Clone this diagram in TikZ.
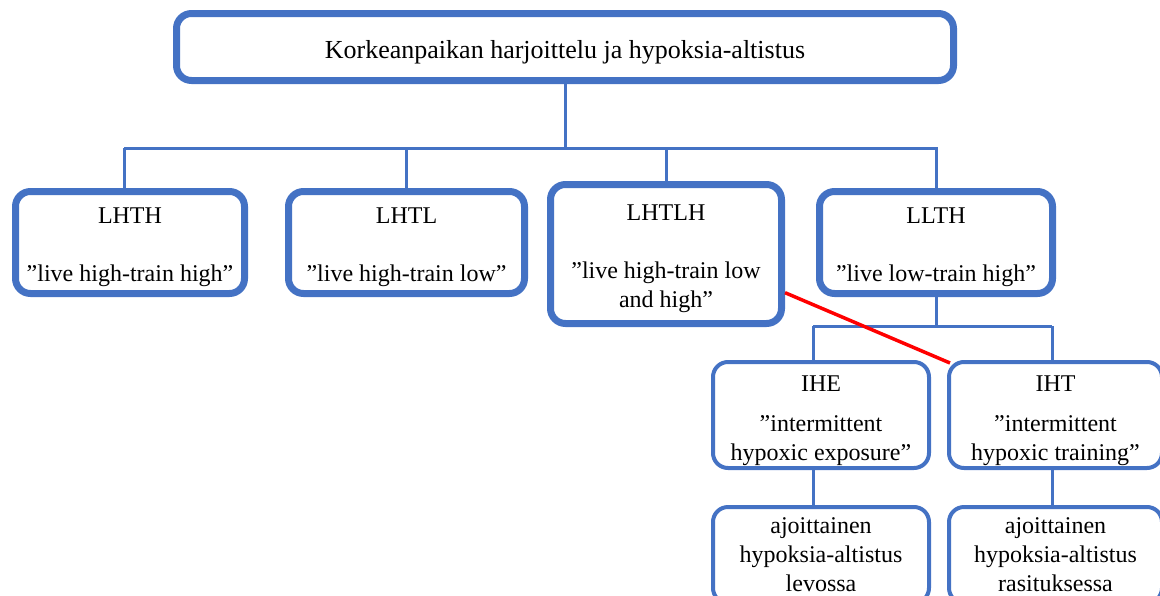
\documentclass[tikz,border=0pt]{standalone}
\usepackage{fontspec}
\setmainfont{Liberation Serif}
\usepackage{xcolor}
\usepackage{tikz}
\usetikzlibrary{positioning}

\definecolor{boxblue}{HTML}{4472C4}
\newcommand{\tstrut}[1][26pt]{\rule{0pt}{#1}}

\begin{document}
\begin{tikzpicture}[x=1pt, y=-1pt, every node/.style={font=\fontsize{24}{29}\selectfont}]

% Styles
\tikzstyle{box} = [draw=boxblue, line width=7pt, rounded corners=15pt, align=center, inner sep=0pt, minimum height=102pt, fill=white]
\tikzstyle{subbox} = [box, line width=4pt, minimum width=215pt, minimum height=106pt]
\tikzstyle{link} = [draw=boxblue, line width=3pt]
\tikzstyle{redlink} = [draw=red, line width=3.5pt]

\clip (0,0) rectangle (1160,595);

% Nodes
\node[box, minimum width=777pt, minimum height=67pt, font=\fontsize{26}{30}\selectfont] (top) at (565,47) {\tstrut[28pt]Korkeanpaikan harjoittelu ja hypoksia-altistus};

\node[box, minimum width=229pt] (lhth) at (130,242.5) {\tstrut LHTH\\[29pt]”live high-train high”};
\node[box, minimum width=236pt, right=37pt of lhth] (lhtl) {\tstrut LHTL\\[29pt]”live high-train low”};
\node[box, minimum width=231pt, minimum height=139pt] (lhtlh) at (666,254) {\tstrut LHTLH\\[29pt]”live high-train low\\and high”};
\node[box, minimum width=233pt] (llth) at (936,242.5) {\tstrut LLTH\\[29pt]”live low-train high”};

\node[subbox, minimum width=216pt] (ihe) at (821,415) {\tstrut[27pt]IHE\\[11pt]”intermittent\\hypoxic exposure”};
\node[subbox, minimum width=213pt, right=16pt of ihe] (iht) {\tstrut[27pt]IHT\\[11pt]”intermittent\\hypoxic training”};

\node[subbox, minimum width=216pt, minimum height=96pt, below=35pt of ihe] (rest) {ajoittainen\\hypoksia-altistus\\levossa};
\node[subbox, minimum width=213pt, minimum height=96pt, below=35pt of iht] (effort) {ajoittainen\\hypoksia-altistus\\rasituksessa};

\coordinate (busL) at (124,148);
\coordinate (busR) at (938,148);
\coordinate (subL) at (813,326);
\coordinate (subR) at (1052,326);

% Arrows
\draw[link] (top) -- (top |- busL);
\draw[link] (busL) -- (busR);
\draw[link] (busL) -- (busL |- lhth.north);
\draw[link] (lhtl) -- (lhtl |- busL);
\draw[link] (lhtlh) -- (lhtlh |- busL);
\draw[link] (llth) -- (llth |- busL);

\draw[link] (llth) -- (llth |- subL);
\draw[link] (subL) -- (subR);
\draw[link] (subL) -- (subL |- ihe.north);
\draw[link] (subR) -- (subR |- iht.north);
\draw[link] (ihe.south -| subL) -- (rest.north -| subL);
\draw[link] (iht.south -| subR) -- (effort.north -| subR);

\draw[redlink] (lhtlh.-18.7) -- ([xshift=3pt, yshift=-3pt]iht.north west);

\end{tikzpicture}
\end{document}
